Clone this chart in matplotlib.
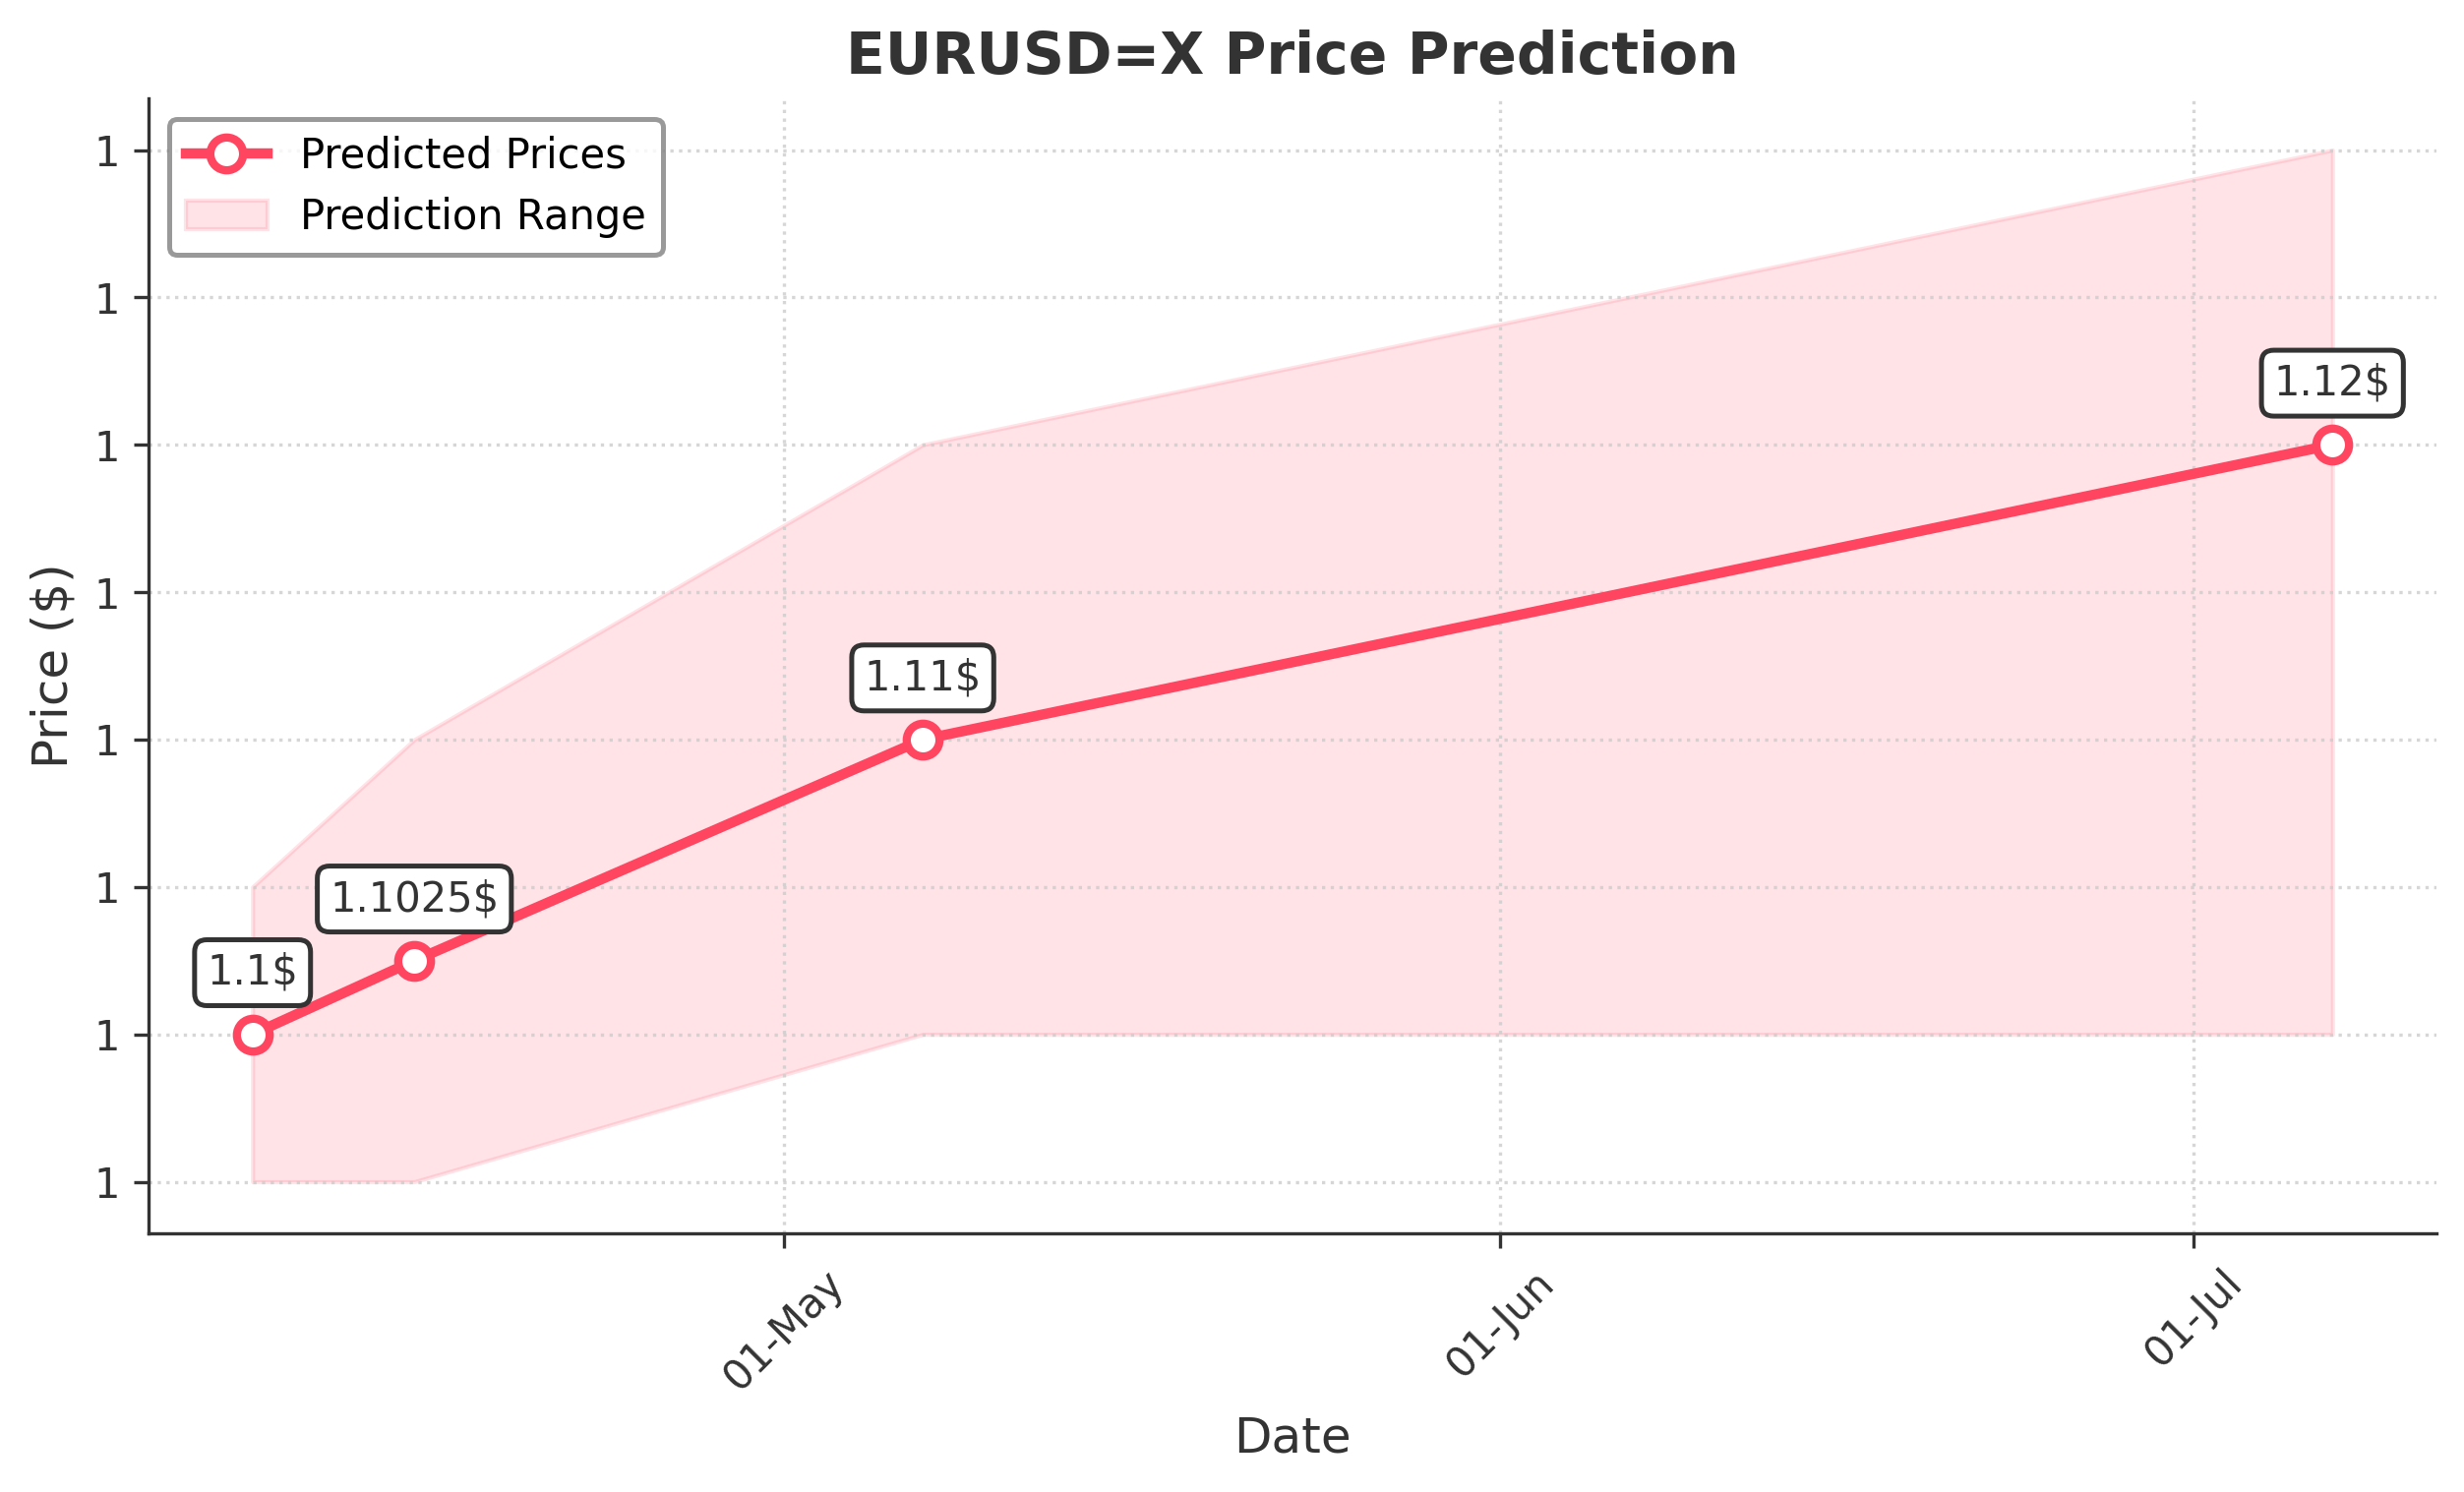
import numpy as np
import pandas as pd
import matplotlib
matplotlib.use("Agg")
import matplotlib.pyplot as plt
import matplotlib.dates as mdates
from matplotlib.lines import Line2D
from matplotlib.patches import Patch

# prediction data
dates = pd.to_datetime(["2024-04-08", "2024-04-15", "2024-05-07", "2024-07-07"])
predicted = [1.1, 1.1025, 1.11, 1.12]
range_low = [1.095, 1.095, 1.1, 1.1]
range_high = [1.105, 1.11, 1.12, 1.13]

line_color = "#FF4560"
text_color = "#333333"

fig, ax = plt.subplots(figsize=(8.35, 5.0567), dpi=300)
fig.subplots_adjust(left=0.0603, right=0.9888, top=0.9340, bottom=0.1734)

ax.fill_between(dates, range_low, range_high, color=line_color, alpha=0.15,
                linewidth=1)
ax.plot(dates, predicted, color=line_color, linewidth=2.5, marker="o",
        markersize=8, markerfacecolor="white", markeredgecolor=line_color,
        markeredgewidth=2, zorder=3)

for d, v in zip(dates, predicted):
    ax.annotate(f"{v}$", (d, v), xytext=(0, 10), textcoords="offset points",
                ha="center", va="bottom", fontsize=10, color=text_color,
                bbox=dict(boxstyle="round,pad=0.3", facecolor="white",
                          edgecolor=text_color, linewidth=1.2), zorder=4)

ax.set_title("EURUSD=X Price Prediction", fontsize=14, fontweight="bold",
             color=text_color)
ax.set_xlabel("Date", fontsize=12, color=text_color)
ax.set_ylabel("Price ($)", fontsize=12, color=text_color)

ax.xaxis.set_major_locator(mdates.MonthLocator())
ax.xaxis.set_major_formatter(mdates.DateFormatter("%d-%b"))
ax.yaxis.set_major_formatter(plt.FuncFormatter(lambda x, p: f"{x:.0f}"))
plt.setp(ax.get_xticklabels(), rotation=45)
ax.tick_params(colors=text_color, labelsize=10)

ax.grid(True, linestyle=":", color="#CCCCCC", linewidth=0.8, alpha=0.8)
ax.spines["top"].set_visible(False)
ax.spines["right"].set_visible(False)
ax.spines["left"].set_color(text_color)
ax.spines["bottom"].set_color(text_color)

handles = [
    Line2D([0], [0], color=line_color, linewidth=2.5, marker="o", markersize=8,
           markerfacecolor="white", markeredgecolor=line_color,
           markeredgewidth=2),
    Patch(facecolor=line_color, alpha=0.15, edgecolor=line_color),
]
leg = ax.legend(handles, ["Predicted Prices", "Prediction Range"],
                loc="upper left", fontsize=10, frameon=True)
leg.get_frame().set_edgecolor("gray")
leg.get_frame().set_linewidth(1.2)

plt.savefig("out.png", dpi=300)
